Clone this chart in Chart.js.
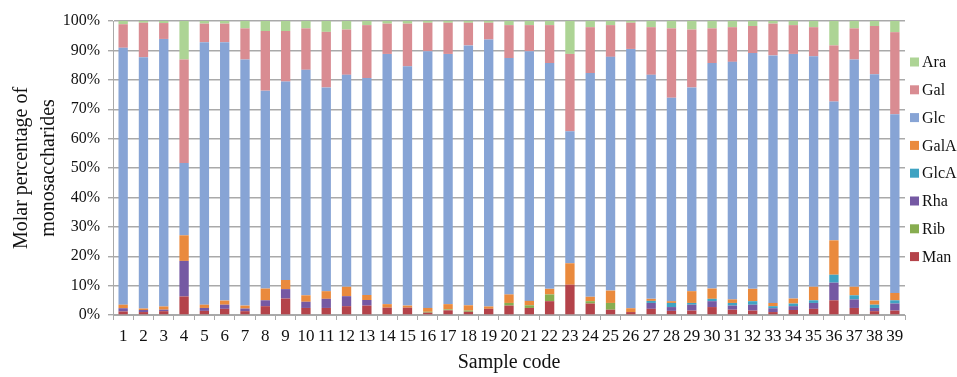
<!DOCTYPE html>
<html>
<head>
<meta charset="utf-8">
<script src="https://cdn.jsdelivr.net/npm/chart.js@4.4.1/dist/chart.umd.min.js"></script>
<style>
  html, body { margin: 0; padding: 0; background: #fff; }
  #chart { display: block; }
</style>
</head>
<body>
<canvas id="chart" width="957" height="377"></canvas>
<script>
const samples = ['1','2','3','4','5','6','7','8','9','10','11','12','13','14','15','16','17','18','19','20',
  '21','22','23','24','25','26','27','28','29','30','31','32','33','34','35','36','37','38','39']

// molar % per sugar, bottom of the stack first
const man = [1.2,1.0,1.3,6.3,1.4,2.1,1.3,3.0,5.6,2.4,2.4,3.0,3.2,2.5,2.5,0.8,1.6,1.1,2.1,3.2,2.4,4.7,10.3,3.9,1.8,1.0,2.1,1.4,1.5,2.7,1.8,1.5,1.0,1.7,2.1,5.0,2.4,1.3,1.5]
const rib = [0,0,0,0,0,0,0,0,0,0,0,0,0,0,0,0.3,0.3,0.4,0,0.9,0.9,2.3,0,0.8,2.3,0,0,0,0,0,0,0,0,0,0,0,0,0,0]
const rha = [1.1,0.7,0.5,12.1,1.0,1.4,0.9,2.0,3.2,2.1,3.1,3.4,1.9,0,0,0,0,0,0,0,0,0,0,0,0,0,2.0,1.3,2.0,2.0,1.4,2.0,1.3,1.3,2.0,6.0,2.9,1.1,2.4]
const glcA = [0,0,0,0,0,0,0,0,0,0,0,0,0,0,0,0,0,0,0,0,0,0,0,0,0,0,0.7,1.4,0.6,0.8,0.9,1.2,0.7,0.9,0.9,2.7,1.4,1.1,1.1]
const galA = [1.2,0.5,1.1,8.7,1.1,1.4,1.0,4.0,3.1,2.2,2.6,3.2,1.7,1.2,0.7,1.3,1.8,1.8,0.8,2.9,1.5,1.9,7.3,1.5,4.2,1.3,0.7,0.6,4.0,3.5,1.2,4.2,1.1,1.7,4.6,11.7,2.9,1.4,2.5]
const glc = [87.4,85.5,91.0,24.6,89.3,87.9,83.7,67.3,67.5,76.7,69.3,72.1,73.8,85.1,81.4,87.3,85.1,88.4,90.8,80.4,84.9,76.8,44.9,76.1,79.5,88.2,76.2,69.2,69.3,76.7,80.8,80.2,84.2,83.2,78.4,47.2,77.3,77.0,60.8]
const gal = [8.0,11.7,5.4,35.2,6.3,6.3,10.6,20.3,17.2,14.1,18.9,15.4,18.0,10.3,14.5,9.7,10.6,7.7,5.7,11.2,8.9,12.9,26.3,15.6,10.8,8.9,16.2,23.6,19.7,11.8,11.8,9.2,10.8,9.8,9.9,19.1,10.6,16.4,27.9]
const ara = [1.1,0.6,0.7,13.1,0.9,0.9,2.5,3.4,3.4,2.5,3.7,2.9,1.4,0.9,0.9,0.6,0.6,0.6,0.6,1.4,1.4,1.4,11.2,2.1,1.4,0.6,2.1,2.5,2.9,2.5,2.1,1.7,0.9,1.4,2.1,8.3,2.5,1.7,3.8]

const yTicks = [0, 10, 20, 30, 40, 50, 60, 70, 80, 90, 100]

const serif = "'Liberation Serif', 'Times New Roman', serif"
const gridGray = '#a9a9a9'

const series = [
  { label: 'Man', data: man, color: '#b4434a' },
  { label: 'Rib', data: rib, color: '#87ad50' },
  { label: 'Rha', data: rha, color: '#7559a3' },
  { label: 'GlcA', data: glcA, color: '#3fa3c2' },
  { label: 'GalA', data: galA, color: '#ea8a3d' },
  { label: 'Glc', data: glc, color: '#87a4d5' },
  { label: 'Gal', data: gal, color: '#d98c92' },
  { label: 'Ara', data: ara, color: '#add495' }
]

// small legend on the right, top item = top of the stack (the built-in one is too wide here)
const sideLegend = {
  id: 'sideLegend',
  afterDraw (chart) {
    const { ctx, chartArea } = chart
    const items = chart.data.datasets.slice().reverse()
    ctx.save()
    ctx.font = '16px ' + serif
    ctx.textBaseline = 'middle'
    ctx.textAlign = 'left'
    items.forEach((ds, i) => {
      const y = chartArea.top + 41 + i * 27.8
      ctx.fillStyle = ds.backgroundColor
      ctx.fillRect(chartArea.right + 5, y - 4.5, 9, 9)
      ctx.fillStyle = '#111'
      ctx.fillText(ds.label, chartArea.right + 17, y + 1)
    })
    ctx.restore()
  }
}

const ctx = document.getElementById('chart').getContext('2d')

new Chart(ctx, {
  type: 'bar',
  data: {
    labels: samples,
    datasets: series.map(s => ({
      label: s.label,
      data: s.data,
      backgroundColor: s.color,
      borderWidth: 0,
      barPercentage: 0.46,
      categoryPercentage: 1
    }))
  },
  plugins: [sideLegend],
  options: {
    responsive: false,
    animation: false,
    layout: { padding: { top: 21, left: 0, right: 52, bottom: 2 } },
    plugins: {
      legend: { display: false },
      tooltip: { enabled: false }
    },
    scales: {
      x: {
        stacked: true,
        border: { display: true, color: gridGray, width: 1 },
        grid: { display: true, drawOnChartArea: false, color: gridGray, tickLength: 5 },
        ticks: { color: '#111', font: { family: serif, size: 17, lineHeight: 1 }, maxRotation: 0, autoSkip: false, padding: 8 },
        title: {
          display: true,
          text: 'Sample code',
          color: '#111',
          font: { family: serif, size: 20 },
          padding: { top: -2, bottom: 0 }
        }
      },
      y: {
        stacked: true,
        min: 0,
        max: 100,
        afterBuildTicks: axis => { axis.ticks = yTicks.map(v => ({ value: v })) },
        afterFit: axis => { axis.width = 113 },
        border: { display: true, color: gridGray, width: 1 },
        grid: { color: gridGray, lineWidth: 1.4, tickLength: 5 },
        ticks: {
          color: '#111',
          font: { family: serif, size: 16 },
          padding: 8,
          callback: v => v + '%'
        },
        title: {
          display: true,
          text: ['Molar percentage of', 'monosaccharides'],
          color: '#111',
          font: { family: serif, size: 20, lineHeight: 1.35 },
          padding: { top: 8, bottom: 0 }
        }
      }
    }
  }
})
</script>
</body>
</html>
